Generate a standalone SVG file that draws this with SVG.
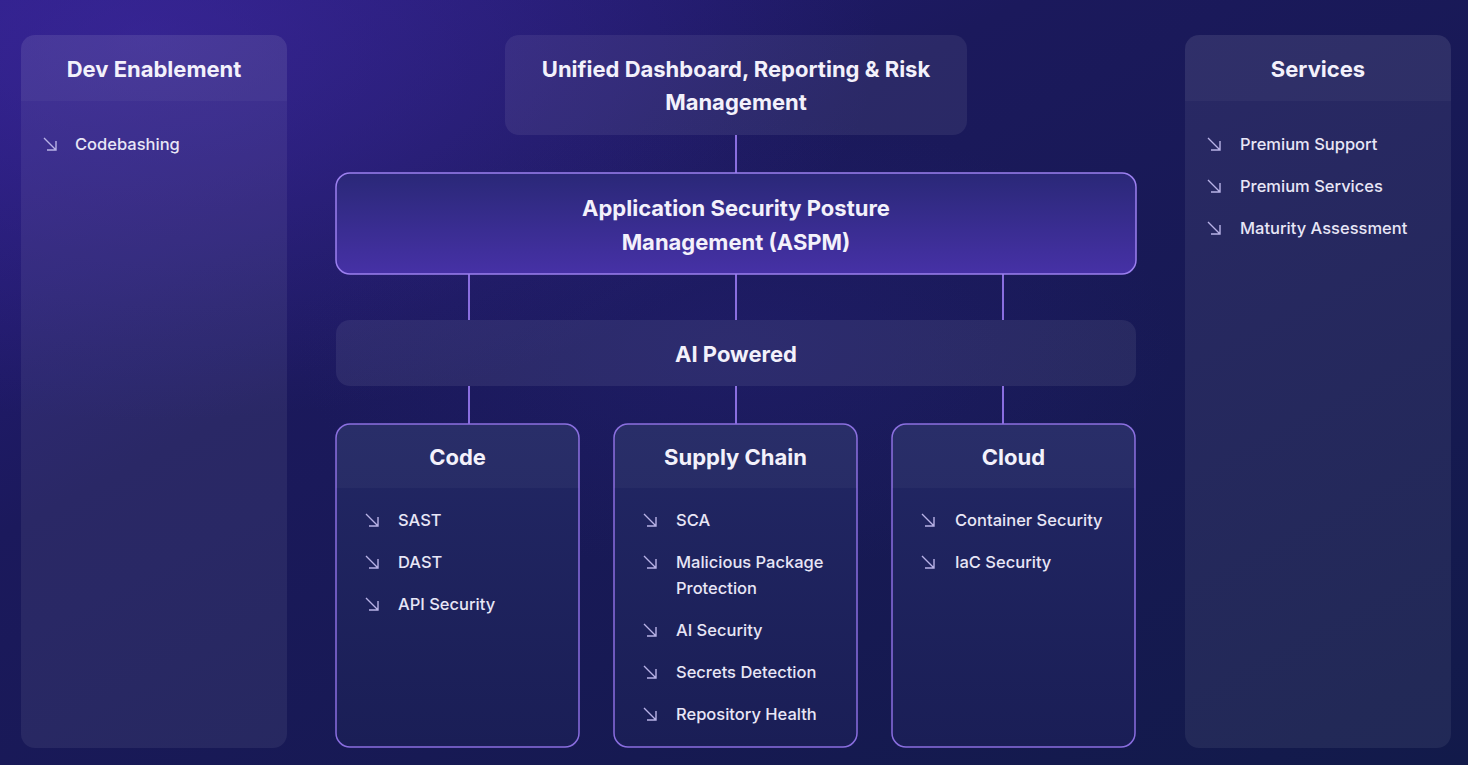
<svg xmlns="http://www.w3.org/2000/svg" width="1468" height="765" viewBox="0 0 1468 765">
<defs>
<linearGradient id="bg" x1="0" y1="0" x2="1" y2="1">
<stop offset="0" stop-color="#281c80"/>
<stop offset="0.35" stop-color="#1b195c"/>
<stop offset="1" stop-color="#121a4a"/>
</linearGradient>
<radialGradient id="glow" cx="0.1" cy="0.05" r="0.5">
<stop offset="0" stop-color="#4a2fb0" stop-opacity="0.45"/>
<stop offset="1" stop-color="#4a2fb0" stop-opacity="0"/>
</radialGradient>
<radialGradient id="glow2" cx="0.5" cy="0.45" r="0.3">
<stop offset="0" stop-color="#2a2380" stop-opacity="0.3"/>
<stop offset="1" stop-color="#2a2380" stop-opacity="0"/>
</radialGradient>
<linearGradient id="aspm" x1="0" y1="0" x2="0" y2="1">
<stop offset="0" stop-color="#2a2878"/>
<stop offset="1" stop-color="#4631a6"/>
</linearGradient>
<linearGradient id="cat" x1="0" y1="0" x2="0" y2="1">
<stop offset="0" stop-color="#222764"/>
<stop offset="1" stop-color="#1a1e56"/>
</linearGradient>
<g id="arr" fill="none" stroke="#b8b2e6" stroke-width="1.4">
<path d="M0 0 L12 12 M12 3 V12 H3"/>
</g>
<clipPath id="cCode"><rect x="336" y="424" width="243" height="323" rx="14"/></clipPath>
<clipPath id="cSup"><rect x="614" y="424" width="243" height="323" rx="14"/></clipPath>
<clipPath id="cCloud"><rect x="892" y="424" width="243" height="323" rx="14"/></clipPath>
<clipPath id="cDev"><rect x="21" y="35" width="266" height="713" rx="14"/></clipPath>
<clipPath id="cSvc"><rect x="1185" y="35" width="266" height="713" rx="14"/></clipPath>
</defs>
<style>
.title{font-family:"Inter","Liberation Sans",sans-serif;font-weight:700;font-size:22px;fill:#f3f1fb;text-anchor:middle}
.item{font-family:"Inter","Liberation Sans",sans-serif;font-weight:500;font-size:16.5px;fill:#e8e6f6}
.panel{fill:#ffffff;fill-opacity:0.065}
.head{fill:#ffffff;fill-opacity:0.035}
.cat{fill:url(#cat);stroke:#8a6ee0;stroke-width:1.5}
.conn{stroke:#8a6ee0;stroke-width:2;fill:none}
</style>
<rect width="1468" height="765" fill="url(#bg)"/>
<rect width="1468" height="765" fill="url(#glow)"/>
<rect width="1468" height="765" fill="url(#glow2)"/>

<g id="connectors">
<line class="conn" x1="736" y1="135" x2="736" y2="173"/>
<line class="conn" x1="469" y1="274" x2="469" y2="320"/>
<line class="conn" x1="736" y1="274" x2="736" y2="320"/>
<line class="conn" x1="1003" y1="274" x2="1003" y2="320"/>
<line class="conn" x1="469" y1="386" x2="469" y2="424"/>
<line class="conn" x1="736" y1="386" x2="736" y2="424"/>
<line class="conn" x1="1003" y1="386" x2="1003" y2="424"/>
</g>

<g id="dev-enablement">
<rect class="panel" x="21" y="35" width="266" height="713" rx="14"/>
<rect class="head" x="21" y="35" width="266" height="66" clip-path="url(#cDev)"/>
<text class="title" x="154" y="77">Dev Enablement</text>
<use href="#arr" x="44" y="138"/>
<text class="item" x="75" y="150">Codebashing</text>
</g>

<g id="services">
<rect class="panel" x="1185" y="35" width="266" height="713" rx="14"/>
<rect class="head" x="1185" y="35" width="266" height="66" clip-path="url(#cSvc)"/>
<text class="title" x="1318" y="77">Services</text>
<use href="#arr" x="1208" y="138"/>
<text class="item" x="1240" y="150">Premium Support</text>
<use href="#arr" x="1208" y="180"/>
<text class="item" x="1240" y="192">Premium Services</text>
<use href="#arr" x="1208" y="222"/>
<text class="item" x="1240" y="234">Maturity Assessment</text>
</g>

<g id="unified-dashboard">
<rect x="505" y="35" width="462" height="100" rx="14" fill="#ffffff" fill-opacity="0.07"/>
<text class="title" x="736" y="77">Unified Dashboard, Reporting &amp; Risk</text>
<text class="title" x="736" y="110">Management</text>
</g>

<g id="aspm">
<rect x="336" y="173" width="800" height="101" rx="14" fill="url(#aspm)" stroke="#9c80f0" stroke-width="1.5"/>
<text class="title" x="736" y="216">Application Security Posture</text>
<text class="title" x="736" y="250">Management (ASPM)</text>
</g>

<g id="ai-powered">
<rect x="336" y="320" width="800" height="66" rx="14" fill="#ffffff" fill-opacity="0.07"/>
<text class="title" x="736" y="362">AI Powered</text>
</g>

<g id="code">
<rect class="cat" x="336" y="424" width="243" height="323" rx="14"/>
<rect class="head" x="336" y="424" width="243" height="64" clip-path="url(#cCode)"/>
<text class="title" x="457.5" y="465">Code</text>
<use href="#arr" x="366" y="514"/>
<text class="item" x="398" y="526">SAST</text>
<use href="#arr" x="366" y="556"/>
<text class="item" x="398" y="568">DAST</text>
<use href="#arr" x="366" y="598"/>
<text class="item" x="398" y="610">API Security</text>
</g>

<g id="supply-chain">
<rect class="cat" x="614" y="424" width="243" height="323" rx="14"/>
<rect class="head" x="614" y="424" width="243" height="64" clip-path="url(#cSup)"/>
<text class="title" x="735.5" y="465">Supply Chain</text>
<use href="#arr" x="644" y="514"/>
<text class="item" x="676" y="526">SCA</text>
<use href="#arr" x="644" y="556"/>
<text class="item" x="676" y="568">Malicious Package</text>
<text class="item" x="676" y="594">Protection</text>
<use href="#arr" x="644" y="624"/>
<text class="item" x="676" y="636">AI Security</text>
<use href="#arr" x="644" y="666"/>
<text class="item" x="676" y="678">Secrets Detection</text>
<use href="#arr" x="644" y="708"/>
<text class="item" x="676" y="720">Repository Health</text>
</g>

<g id="cloud">
<rect class="cat" x="892" y="424" width="243" height="323" rx="14"/>
<rect class="head" x="892" y="424" width="243" height="64" clip-path="url(#cCloud)"/>
<text class="title" x="1013.5" y="465">Cloud</text>
<use href="#arr" x="922" y="514"/>
<text class="item" x="955" y="526">Container Security</text>
<use href="#arr" x="922" y="556"/>
<text class="item" x="955" y="568">IaC Security</text>
</g>
</svg>
